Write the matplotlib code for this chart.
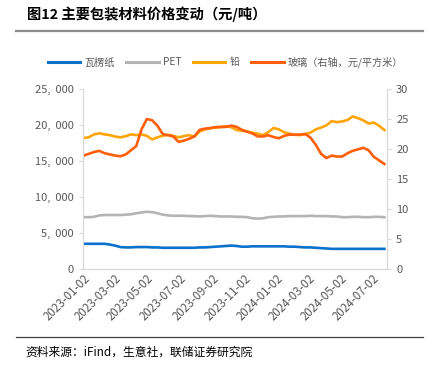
import pandas as pd
import matplotlib
matplotlib.use('Agg')
import matplotlib.pyplot as plt
import matplotlib.dates as mdates
from matplotlib.lines import Line2D

plt.rcParams['font.family'] = ['Noto Sans CJK SC', 'DejaVu Sans']

# ---- data (~10-day spacing) ----
dates = pd.date_range('2023-01-02', '2024-07-24', periods=58)

corrugated = [3.5, 3.5, 3.5, 3.5, 3.5, 3.4, 3.25, 3.05, 3.0, 3.0,
              3.05, 3.05, 3.05, 3.0, 3.0, 2.95, 2.95, 2.95, 2.95, 2.95,
              2.95, 2.95, 3.0, 3.0, 3.05, 3.1, 3.15, 3.2, 3.25, 3.2,
              3.1, 3.1, 3.15, 3.15, 3.15, 3.15, 3.15, 3.15, 3.15, 3.1,
              3.1, 3.05, 3.0, 3.0, 2.95, 2.9, 2.85, 2.8, 2.8, 2.8,
              2.8, 2.8, 2.8, 2.8, 2.8, 2.8, 2.8, 2.8]
pet = [7.2, 7.2, 7.25, 7.45, 7.5, 7.5, 7.5, 7.5, 7.55, 7.6,
       7.75, 7.85, 7.95, 7.9, 7.75, 7.55, 7.45, 7.4, 7.4, 7.4,
       7.35, 7.35, 7.3, 7.35, 7.4, 7.35, 7.3, 7.3, 7.3, 7.25,
       7.25, 7.2, 7.05, 7.0, 7.05, 7.2, 7.25, 7.3, 7.3, 7.35,
       7.35, 7.35, 7.35, 7.4, 7.35, 7.35, 7.35, 7.3, 7.3, 7.2,
       7.2, 7.25, 7.25, 7.2, 7.2, 7.25, 7.25, 7.2]
lead = [18.2, 18.3, 18.7, 18.85, 18.7, 18.6, 18.4, 18.3, 18.45, 18.7,
        18.6, 18.7, 18.5, 18.0, 18.3, 18.5, 18.65, 18.5, 18.3, 18.45,
        18.6, 18.4, 19.1, 19.4, 19.55, 19.65, 19.7, 19.85, 19.7, 19.3,
        19.2, 19.1, 18.95, 18.8, 18.6, 19.0, 19.6, 19.4, 19.0, 18.8,
        18.65, 18.6, 18.75, 18.95, 19.4, 19.65, 19.95, 20.55, 20.4, 20.5,
        20.7, 21.2, 20.95, 20.65, 20.2, 20.35, 19.9, 19.3]
glass = [18.9, 19.2, 19.5, 19.7, 19.3, 19.1, 18.9, 18.8, 19.1, 19.8,
         20.5, 23.3, 25.0, 24.8, 23.9, 22.5, 22.3, 22.1, 21.2, 21.4,
         21.7, 22.1, 23.2, 23.4, 23.5, 23.65, 23.7, 23.7, 23.9, 23.7,
         23.2, 22.9, 22.6, 22.1, 22.1, 22.3, 22.0, 21.8, 22.2, 22.4,
         22.4, 22.4, 22.5, 21.9, 20.7, 19.2, 18.5, 18.9, 18.75, 18.75,
         19.3, 19.7, 19.95, 20.2, 19.8, 18.7, 18.1, 17.5]

# thousand yuan/ton -> yuan/ton
corrugated = [v * 1000 for v in corrugated]
pet = [v * 1000 for v in pet]
lead = [v * 1000 for v in lead]

tick_dates = pd.to_datetime(['2023-01-02', '2023-03-02', '2023-05-02', '2023-07-02',
                             '2023-09-02', '2023-11-02', '2024-01-02', '2024-03-02',
                             '2024-05-02', '2024-07-02'])

c_blue = '#0A72CC'
c_gray = '#B4B4B4'
c_lead = '#FFA50A'
c_glass = '#FF5F0A'
c_tick = '#595959'
c_spine = '#D9D9D9'

fig = plt.figure(figsize=(4.32, 3.68), dpi=100)
ax = fig.add_axes([0.192, 0.269, 0.704, 0.489])
ax2 = ax.twinx()

lw = 1.9
ax.plot(dates, corrugated, color=c_blue, lw=lw, label='瓦楞纸')
ax.plot(dates, pet, color=c_gray, lw=lw, label='PET')
ax.plot(dates, lead, color=c_lead, lw=lw, label='铅')
ax2.plot(dates, glass, color=c_glass, lw=lw, label='玻璃（右轴，元/平方米）')

ax.set_ylim(0, 25000)
ax.set_yticks(range(0, 25001, 5000))
ax.yaxis.set_major_formatter(plt.FuncFormatter(lambda x, p: f'{x:,.0f}'.replace(',', ',  ')))
ax2.set_ylim(0, 30)
ax2.set_yticks(range(0, 31, 5))
ax.set_xlim(pd.Timestamp('2023-01-01'), pd.Timestamp('2024-07-29'))

ax.set_xticks(tick_dates)
ax.xaxis.set_major_formatter(mdates.DateFormatter('%Y-%m-%d'))

for a in (ax, ax2):
    a.spines['top'].set_visible(False)
    for s in ('left', 'right', 'bottom'):
        a.spines[s].set_color(c_spine)
    a.tick_params(colors=c_tick, labelsize=8, length=3, width=0.8)
    a.tick_params(axis='both', color=c_spine)
    a.set_facecolor('none')
ax.tick_params(axis='x', labelsize=8.3, length=0, pad=2)
for lab in ax.get_xticklabels():
    lab.set_rotation(45)
    lab.set_ha('right')
    lab.set_rotation_mode('anchor')

# legend
handles = [Line2D([], [], color=c, lw=2.2) for c in (c_blue, c_gray, c_lead, c_glass)]
labels = ['瓦楞纸', 'PET', '铅', '玻璃（右轴，元/平方米）']
fig.legend(handles, labels, loc='center', bbox_to_anchor=(0.522, 0.831), ncol=4,
           frameon=False, fontsize=7.3, handlelength=3.2, handletextpad=0.4,
           columnspacing=1.15, labelcolor=c_tick)

# title and separators
fig.text(0.062, 0.962, '图12 主要包装材料价格变动（元/吨）', fontsize=10.3,
         fontweight='bold', va='center', ha='left', color='black')
fig.add_artist(Line2D([0.037, 0.979], [0.916, 0.916], color='#8C8C8C', lw=1.6))
fig.add_artist(Line2D([0.037, 0.979], [0.084, 0.084], color='#404040', lw=0.9))
fig.text(0.06, 0.043, '资料来源：iFind，生意社，联储证券研究院', fontsize=8.5,
         va='center', ha='left', color='black')

fig.savefig('out.png', dpi=100)
